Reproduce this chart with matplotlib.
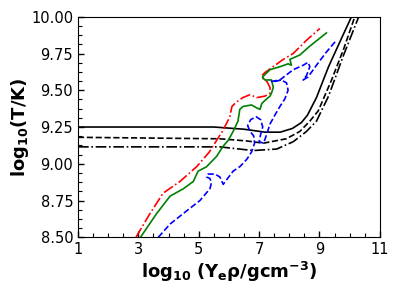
import matplotlib
matplotlib.use("Agg")
import matplotlib.pyplot as plt
from matplotlib.ticker import MultipleLocator, FixedLocator, AutoMinorLocator, FormatStrFormatter

plt.rcParams['mathtext.fontset'] = 'dejavusans'
plt.rcParams['mathtext.default'] = 'bf'

x_ticks = [1, 3, 5, 7, 9, 11]

# Black reference curves
solid_x = [1.0, 5.5, 6.5, 7.2, 7.7, 8.1, 8.4, 8.6, 8.9, 9.3, 9.7, 10.06]
solid_y = [9.25, 9.25, 9.235, 9.215, 9.215, 9.24, 9.28, 9.33, 9.45, 9.66, 9.84, 10.0]
dash_x = [1.0, 5.7, 6.6, 7.14, 7.9, 8.35, 8.68, 8.96, 9.4, 9.8, 10.17]
dash_y = [9.18, 9.17, 9.155, 9.14, 9.17, 9.22, 9.29, 9.36, 9.57, 9.78, 10.0]
dd_x = [1.0, 5.7, 6.8, 7.58, 8.13, 8.57, 8.9, 9.3, 9.8, 10.3]
dd_y = [9.115, 9.115, 9.09, 9.10, 9.15, 9.22, 9.29, 9.46, 9.74, 10.0]

# Red dash-dot
red_x = [2.92, 3.38, 3.82, 4.38, 4.93, 5.35, 5.81, 6.03, 6.10, 6.25, 6.46, 6.70, 6.92, 7.19,
         7.36, 7.36, 7.26, 7.13, 7.09, 7.19, 7.80, 8.13, 8.57, 9.01]
red_y = [8.50, 8.66, 8.80, 8.88, 8.98, 9.08, 9.23, 9.32, 9.39, 9.42, 9.45, 9.47, 9.45, 9.46,
         9.48, 9.52, 9.56, 9.58, 9.60, 9.62, 9.71, 9.75, 9.84, 9.92]

# Green solid
green_x = [3.07, 3.60, 4.05, 4.49, 4.82, 4.98, 5.26, 5.59, 5.81, 5.98, 6.14, 6.30, 6.36, 6.47,
           6.75, 6.92, 7.03, 7.09, 7.19, 7.36, 7.41, 7.47, 7.41, 7.19, 7.11, 7.36, 7.69, 7.96,
           8.07, 8.02, 8.35, 8.68, 9.23]
green_y = [8.50, 8.66, 8.78, 8.83, 8.88, 8.95, 8.98, 9.05, 9.12, 9.16, 9.22, 9.29, 9.37, 9.39,
           9.40, 9.38, 9.37, 9.41, 9.43, 9.46, 9.48, 9.52, 9.57, 9.57, 9.59, 9.64, 9.66, 9.68,
           9.67, 9.71, 9.74, 9.80, 9.89]

# Blue dashed
blue_x = [3.66, 4.05, 4.54, 5.04, 5.37, 5.42, 5.37, 5.26, 5.31, 5.54, 5.70, 5.81, 5.92, 6.14,
          6.36, 6.59, 6.75, 6.85, 6.82, 6.70, 6.62, 6.72, 6.90, 7.05, 7.12, 7.05, 7.00, 7.15,
          7.25, 7.36, 7.52, 7.69, 7.85, 7.96, 7.91, 7.74, 7.52, 7.41, 7.69, 8.13, 8.46, 8.62,
          8.68, 8.57, 8.46, 8.62, 8.90, 9.23, 9.56]
blue_y = [8.50, 8.59, 8.67, 8.75, 8.83, 8.87, 8.90, 8.91, 8.93, 8.93, 8.91, 8.86, 8.89, 8.95,
          8.98, 9.03, 9.08, 9.14, 9.19, 9.22, 9.26, 9.30, 9.32, 9.30, 9.25, 9.20, 9.15, 9.14,
          9.20, 9.27, 9.33, 9.39, 9.44, 9.50, 9.55, 9.57, 9.56, 9.56, 9.57, 9.64, 9.67, 9.69,
          9.66, 9.60, 9.57, 9.59, 9.67, 9.76, 9.84]

fig = plt.figure(figsize=(3.99, 2.99), dpi=100)
ax = fig.add_axes([0.1955, 0.2064, 0.7565, 0.7376])

lw = 1.2
ax.plot(solid_x, solid_y, color='k', ls='-', lw=lw)
ax.plot(dash_x, dash_y, color='k', ls='--', lw=lw)
ax.plot(dd_x, dd_y, color='k', ls='-.', lw=lw)
ax.plot(red_x, red_y, color='r', ls='-.', lw=lw)
ax.plot(green_x, green_y, color='g', ls='-', lw=lw)
ax.plot(blue_x, blue_y, color='b', ls='--', lw=lw)

ax.set_xlim(1, 11)
ax.set_ylim(8.5, 10.0)
ax.xaxis.set_major_locator(FixedLocator(x_ticks))
ax.xaxis.set_minor_locator(MultipleLocator(0.5))
ax.yaxis.set_major_locator(MultipleLocator(0.25))
ax.yaxis.set_minor_locator(AutoMinorLocator(4))
ax.yaxis.set_major_formatter(FormatStrFormatter('%.2f'))
ax.tick_params(which='both', direction='in', top=False, right=False, labelsize=10.5)
ax.tick_params(which='major', length=4.5, width=1)
ax.tick_params(which='minor', length=3, width=0.8)

ax.set_xlabel(r'$log_{10}\ (Y_e\rho/gcm^{-3})$', fontsize=13, labelpad=2)
ax.set_ylabel(r'$log_{10}(T/K)$', fontsize=13)
ax.yaxis.set_label_coords(-0.155, 0.5)

fig.savefig('out.png', dpi=100)
